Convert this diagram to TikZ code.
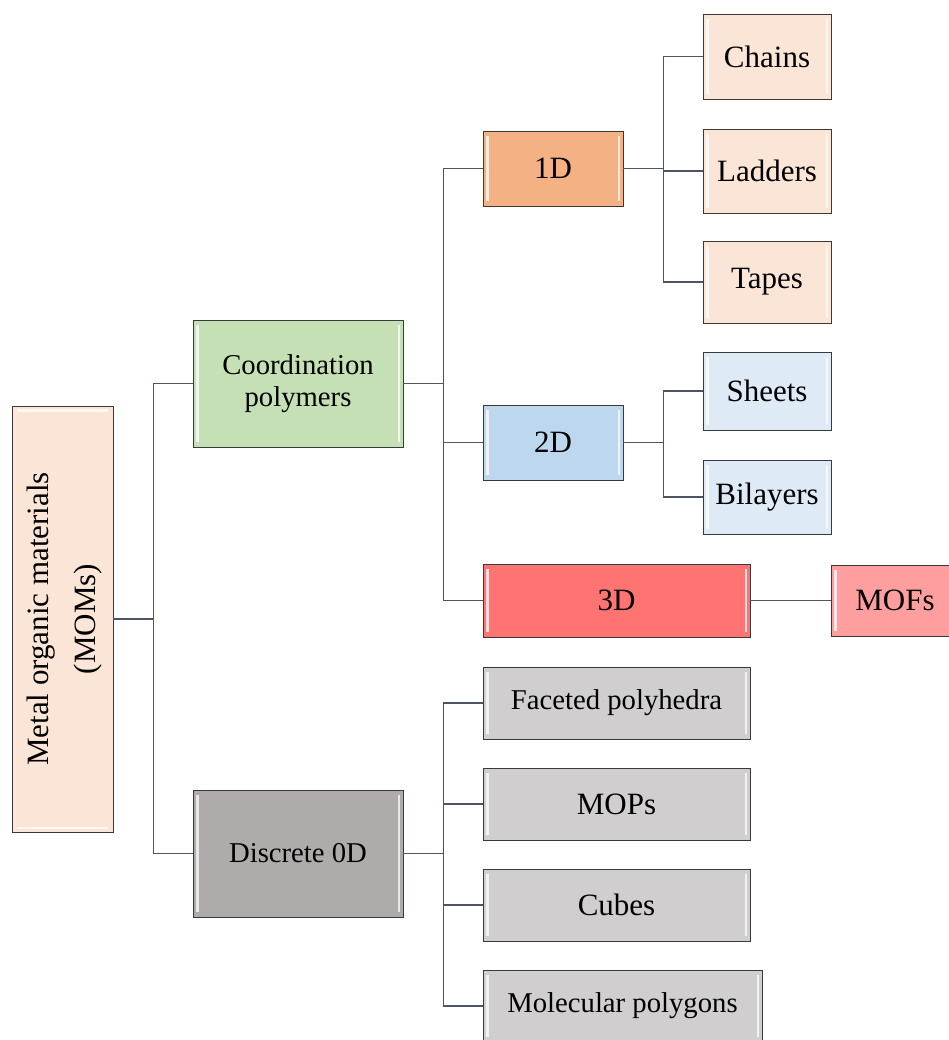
\documentclass[tikz,border=0pt]{standalone}
\usepackage{fontspec}
\setmainfont{Liberation Serif}
\usepackage{graphicx}
\definecolor{linkcol}{HTML}{4A5568}
\definecolor{edgecol}{HTML}{3A3A3A}
\definecolor{peach}{HTML}{FBE5D6}
\definecolor{green1}{HTML}{C5E0B4}
\definecolor{grey1}{HTML}{AFABAB}
\definecolor{grey2}{HTML}{D0CECE}
\definecolor{orange1}{HTML}{F4B183}
\definecolor{blue1}{HTML}{BDD7EE}
\definecolor{blue2}{HTML}{DEEBF7}
\definecolor{red1}{HTML}{FF7373}
\definecolor{red2}{HTML}{FF9E9E}
\tikzset{
box/.style={
	draw=edgecol, line width=0.8pt, rectangle, inner sep=0pt, align=center,
	path picture={
	  \fill[white,opacity=.75] ([xshift=3pt,yshift=-5pt]path picture bounding box.north west)
	    rectangle ([xshift=5.5pt,yshift=5pt]path picture bounding box.south west);
	  \fill[white,opacity=.75] ([xshift=-5.5pt,yshift=-5pt]path picture bounding box.north east)
	    rectangle ([xshift=-3pt,yshift=5pt]path picture bounding box.south east);
	}},
boxh/.style={
	draw=edgecol, line width=0.8pt, rectangle, inner sep=0pt, align=center,
	path picture={
	  \fill[white,opacity=.75] ([xshift=5pt,yshift=-3pt]path picture bounding box.north west)
	    rectangle ([xshift=-5pt,yshift=-5.5pt]path picture bounding box.north east);
	  \fill[white,opacity=.75] ([xshift=5pt,yshift=5.5pt]path picture bounding box.south west)
	    rectangle ([xshift=-5pt,yshift=3pt]path picture bounding box.south east);
	}},
big/.style={font=\fontsize{31}{36}\selectfont},
small/.style={font=\fontsize{28.7}{32}\selectfont},
link/.style={draw=linkcol, line width=1.3pt}
}

\begin{document}
\begin{tikzpicture}[x=1pt, y=-1pt]
	\useasboundingbox (0,0) rectangle (949,1040);
	\node[boxh, fill=peach, minimum width=101pt, minimum height=426pt] (moms) at (62.5,619)
		{\rotatebox{90}{\fontsize{31}{47}\selectfont\begin{tabular}{@{}c@{}}Metal organic materials\\(MOMs)\end{tabular}}};
	\node[box, small, fill=green1, minimum width=210pt, minimum height=127pt] (coord) at (298,383.5) {Coordination\\polymers};
	\node[box, small, fill=grey1, minimum width=210pt, minimum height=127pt] (disc) at (298,853.5) {Discrete 0D};
	\node[box, big, fill=orange1, minimum width=140pt, minimum height=75pt] (d1) at (553,168.5) {1D};
	\node[box, big, fill=blue1, minimum width=140pt, minimum height=75pt] (d2) at (553,442.5) {2D};
	\node[box, big, fill=red1, minimum width=267pt, minimum height=73pt] (d3) at (616.5,600.5) {3D};
	\node[box, big, fill=red2, minimum width=128pt, minimum height=71pt] (mofs) at (895,600.5) {MOFs};
	\node[box, big, fill=peach, minimum width=128pt, minimum height=85pt] (chains) at (767,56.5) {Chains};
	\node[box, big, fill=peach, minimum width=128pt, minimum height=84pt] (ladders) at (767,171) {Ladders};
	\node[box, big, fill=peach, minimum width=128pt, minimum height=82pt] (tapes) at (767,282) {Tapes};
	\node[box, big, fill=blue2, minimum width=128pt, minimum height=78pt] (sheets) at (767,391) {Sheets};
	\node[box, big, fill=blue2, minimum width=128pt, minimum height=74pt] (bilayers) at (767,497) {Bilayers};
	\node[box, small, fill=grey2, minimum width=267pt, minimum height=72pt] (faceted) at (616.5,703) {Faceted polyhedra};
	\node[box, big, fill=grey2, minimum width=267pt, minimum height=72pt] (mops) at (616.5,804) {MOPs};
	\node[box, big, fill=grey2, minimum width=267pt, minimum height=72pt] (cubes) at (616.5,905) {Cubes};
	\node[box, small, fill=grey2, minimum width=279pt, minimum height=72pt] (polygons) at (622.5,1006) {Molecular polygons};

	\draw[link] (moms.east) -- ++(40,0) coordinate (j0);
	\foreach \n in {coord,disc} \draw[link] (j0) |- (\n.west);
	\draw[link] (coord.east) -- ++(40,0) coordinate (j1);
	\foreach \n in {d1,d2,d3} \draw[link] (j1) |- (\n.west);
	\draw[link] (d1.east) -- ++(40,0) coordinate (j2);
	\foreach \n in {chains,ladders,tapes} \draw[link] (j2) |- (\n.west);
	\draw[link] (d2.east) -- ++(40,0) coordinate (j3);
	\foreach \n in {sheets,bilayers} \draw[link] (j3) |- (\n.west);
	\draw[link] (d3.east) -- (mofs.west);
	\draw[link] (disc.east) -- ++(40,0) coordinate (j4);
	\foreach \n in {faceted,mops,cubes,polygons} \draw[link] (j4) |- (\n.west);
\end{tikzpicture}
\end{document}
